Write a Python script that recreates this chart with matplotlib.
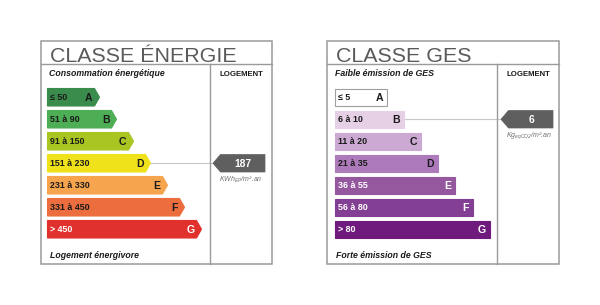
import matplotlib
matplotlib.use("Agg")
import matplotlib.pyplot as plt
from matplotlib.patches import Polygon, Rectangle

plt.rcParams['font.family'] = ['Liberation Sans', 'DejaVu Sans']

# ---- data ----
classes = ['A', 'B', 'C', 'D', 'E', 'F', 'G']
energy_ranges = ['≤ 50', '51 à 90', '91 à 150', '151 à 230', '231 à 330', '331 à 450', '> 450']
ges_ranges = ['≤ 5', '6 à 10', '11 à 20', '21 à 35', '36 à 55', '56 à 80', '> 80']
energy_value = 187
energy_class = 'D'
ges_value = 6
ges_class = 'B'
energy_title = 'CLASSE ÉNERGIE'
ges_title = 'CLASSE GES'
energy_top_label = 'Consommation énergétique'
energy_bottom_label = 'Logement énergivore'
ges_top_label = 'Faible émission de GES'
ges_bottom_label = 'Forte émission de GES'
column_label = 'LOGEMENT'

# ---- styles ----
energy_colors = ['#3a8c4c', '#4dae55', '#a8c522', '#f0e21a', '#f6a44e', '#ec6d3d', '#e0312d']
energy_text = ['#1a1a1a'] * 6 + ['#ffffff']
ges_colors = ['#ffffff', '#e5d0e6', '#cba9d3', '#ad7bbb', '#95589f', '#833f93', '#6f1a7d']
ges_text = ['#1a1a1a', '#1a1a1a', '#1a1a1a', '#1a1a1a', '#ffffff', '#ffffff', '#ffffff']
border = '#9a9a9a'
pointer_color = '#5f5f5f'

fig = plt.figure(figsize=(6.0, 3.05), dpi=100)
ax = fig.add_axes([0, 0, 1, 1])
ax.set_xlim(0, 600)
ax.set_ylim(305, 0)
ax.axis('off')

row_top0 = 88.5
row_pitch = 22.0
row_h = 17.5


def panel(x0, x1, xdiv, title, top_label, bottom_label, ranges, colors, tcolors,
          value, vclass, unit, arrows, bar_x0, base_w, step_w, ptr_tip, ptr_right):
    y0, y1, ytitle = 40.5, 264, 64
    ax.add_patch(Rectangle((x0, y0), x1 - x0, y1 - y0, fill=False, ec=border, lw=1.1))
    ax.plot([x0, x1], [ytitle, ytitle], color=border, lw=1.0)
    ax.plot([xdiv, xdiv], [ytitle, y1], color=border, lw=1.0)
    ax.text(x0 + 8.5, 61.8, title, fontsize=15.4, color='#5a5a5a', ha='left', va='baseline')
    ax.text(x0 + 8, 75.5, top_label, fontsize=6.3, fontweight='bold', style='italic',
            color='#1a1a1a', ha='left', va='baseline')
    ax.text(x0 + 9, 258, bottom_label, fontsize=6.3, fontweight='bold', style='italic',
            color='#1a1a1a', ha='left', va='baseline')
    ax.text((xdiv + x1) / 2, 75.5, column_label, fontsize=5.6, fontweight='bold',
            color='#1a1a1a', ha='center', va='baseline')
    vi = classes.index(vclass)
    for i, (c, r) in enumerate(zip(classes, ranges)):
        top = row_top0 + i * row_pitch
        bot = top + row_h
        mid = (top + bot) / 2
        right = bar_x0 + base_w + i * step_w
        if arrows:
            body = right - 5
            pts = [(bar_x0, top), (body, top), (right, mid), (body, bot), (bar_x0, bot)]
            letter_x = body - 2
        else:
            body = right
            pts = [(bar_x0, top), (right, top), (right, bot), (bar_x0, bot)]
            letter_x = right - 4
        ax.add_patch(Polygon(pts, closed=True, fc=colors[i],
                             ec='#a0a0a0' if colors[i] == '#ffffff' else colors[i], lw=0.8))
        ax.text(bar_x0 + 3, mid + 0.3, r, fontsize=6.4, fontweight='bold', color=tcolors[i],
                ha='left', va='center')
        ax.text(letter_x, mid + 0.3, c, fontsize=7.6, fontweight='bold', color=tcolors[i],
                ha='right', va='center')
        if i == vi:
            ax.plot([right, ptr_tip], [mid, mid], color='#c8c8c8', lw=0.8, zorder=0)
            pb = ptr_tip + 7.5
            ppts = [(ptr_tip, mid), (pb, top), (ptr_right, top), (ptr_right, bot), (pb, bot)]
            ax.add_patch(Polygon(ppts, closed=True, fc=pointer_color, ec=pointer_color, lw=0.5))
            ax.text((pb + ptr_right) / 2 + 0.5, mid + 0.3, str(value), fontsize=7.4,
                    fontweight='bold', color='white', ha='center', va='center')
            ax.text((ptr_tip + ptr_right) / 2 + 2, bot + 7.5, unit, fontsize=5.0,
                    style='italic', color='#707070', ha='center', va='center')


panel(41, 272, 210, energy_title, energy_top_label, energy_bottom_label, energy_ranges,
      energy_colors, energy_text, energy_value, energy_class,
      r'KWh$_{\mathregular{EP}}$/m².an', True, 47.5, 52, 17, 213, 265)
panel(327, 559, 497, ges_title, ges_top_label, ges_bottom_label, ges_ranges,
      ges_colors, ges_text, ges_value, ges_class,
      r'Kg$_{\mathregular{eqCO2}}$/m².an', False, 335, 52, 17.1, 501, 553)

fig.savefig('out.png', dpi=100, facecolor='white')
